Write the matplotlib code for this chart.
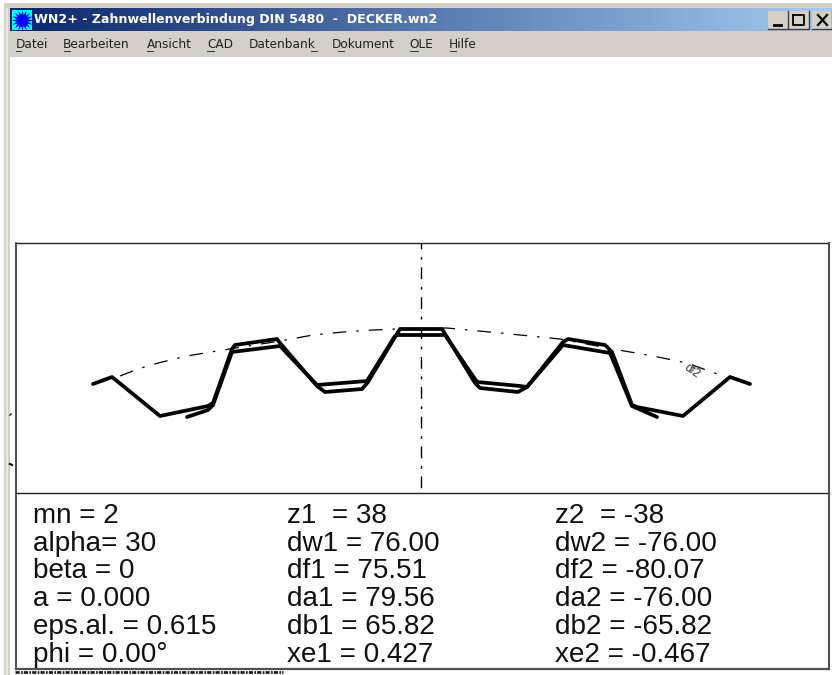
import matplotlib
matplotlib.use("Agg")
import matplotlib.pyplot as plt
import numpy as np

# window text
title = "WN2+ - Zahnwellenverbindung DIN 5480  -  DECKER.wn2"
menu_items = ["Datei", "Bearbeiten", "Ansicht", "CAD", "Datenbank", "Dokument", "OLE", "Hilfe"]
menu_x = [16, 63, 147, 207, 249, 332, 409, 449]
# underlined letter of each menu item (x from, x to)
menu_ul = [(16, 21), (64, 70), (147, 153), (207, 214), (311, 317), (338, 344), (410, 418), (450, 456)]

# parameter table, one list per column
col1 = ["mn = 2", "alpha= 30", "beta = 0", "a = 0.000", "eps.al. = 0.615", "phi = 0.00°"]
col2 = ["z1  = 38", "dw1 = 76.00", "df1 = 75.51", "da1 = 79.56", "db1 = 65.82", "xe1 = 0.427"]
col3 = ["z2  = -38", "dw2 = -76.00", "df2 = -80.07", "da2 = -76.00", "db2 = -65.82", "xe2 = -0.467"]

# tooth profiles
prof1_x = [93, 112, 160, 208, 213, 232, 235, 277, 280, 317, 325, 362, 368, 395, 400, 442, 447, 475, 480, 518, 527, 563, 568, 605, 612, 632, 637, 683, 730, 750]
prof1_y = [384, 377, 416, 406, 403, 349, 345, 339, 343, 386, 392, 389, 382, 337, 329, 329, 337, 383, 388, 392, 387, 342, 339, 345, 352, 405, 407, 416, 377, 384]
prof2_x = [187, 208, 213, 232, 280, 317, 367, 395, 397, 445, 477, 520, 527, 563, 610, 632, 657]
prof2_y = [417, 410, 405, 352, 346, 385, 381, 336, 335, 335, 382, 386, 387, 345, 353, 406, 417]

# df2 circle
arc_x = [120, 138, 158, 187, 217, 280, 313, 343, 373, 397, 447, 500, 560, 613, 653, 687, 720]
arc_y = [376, 369, 363, 356, 351, 341, 335, 332, 330, 329, 328, 333, 339, 349, 356, 363, 375]

fig = plt.figure(figsize=(8.32, 6.75), dpi=100)
ax = fig.add_axes([0, 0, 1, 1])
ax.axis("off")

grey = "#d4d0c8"

# title bar
grad = np.linspace(0, 1, 256).reshape(1, -1, 1)
start = np.array([10, 36, 106]) / 255
end = np.array([166, 202, 240]) / 255
ax.imshow(start + grad * (end - start), extent=[9, 832, 31, 8], aspect="auto", zorder=1)
ax.set_xlim(0, 832)
ax.set_ylim(675, 0)

# window frame
ax.fill_between([4, 832], 3, 8, color=grey, lw=0)
ax.fill_between([4, 10], 3, 675, color=grey, lw=0)
ax.fill_between([6, 8], 8, 675, color="#ece9e4", lw=0)
ax.fill_between([9, 832], 31, 57, color=grey, lw=0)

# app icon
ax.fill_between([12, 32], 10, 30, color="#00ffff", lw=0, zorder=2)
ax.scatter([22], [20], s=260, marker=(16, 1, 0), color="#0000ff", lw=0, zorder=3)

ax.text(34, 20, title, color="white", fontsize=9.1, fontweight="bold", family="DejaVu Sans",
        va="center", zorder=3)
for x, item in zip(menu_x, menu_items):
    ax.text(x, 45, item, color="#202020", fontsize=8.7, family="DejaVu Sans", va="center", zorder=3)
for x0, x1 in menu_ul:
    ax.plot([x0, x1], [51, 51], color="#303030", lw=0.7, zorder=3)

# window buttons
for x0, x1 in [(768, 788), (789, 809), (812, 832)]:
    ax.fill_between([x0, x1], 11, 29, color=grey, lw=0, zorder=3)
    ax.plot([x0, x1, x1], [29, 29, 11], color="#404040", lw=1, zorder=4)
ax.plot([774, 781], [25, 25], color="black", lw=2, zorder=5)
ax.plot([793, 804, 804, 793, 793], [15, 15, 25, 25, 15], color="black", lw=1.3, zorder=5)
ax.plot([818, 827], [15, 25], color="black", lw=1.6, zorder=5)
ax.plot([818, 827], [25, 15], color="black", lw=1.6, zorder=5)

# boxes
ax.plot([16, 829], [243, 243], color="#202020", lw=1)
ax.plot([16, 829], [493, 493], color="#202020", lw=1)
ax.plot([16, 16], [243, 668], color="#303030", lw=1.2)
ax.plot([828.5, 828.5], [243, 669], color="#505050", lw=1.5)
ax.plot([16, 829], [668.5, 668.5], color="#505050", lw=1.6)

# noise strip below the box
ax.plot([15, 283], [672, 672], color="#202020", lw=2, ls=(0, (1.5, 0.5, 0.6, 0.4)))

# centre line and pitch circle
ax.plot([421, 421], [243, 493], color="black", lw=1, ls=(4.3, (8.5, 5.5, 2, 5.5)))
ax.plot(arc_x, arc_y, color="black", lw=0.9, ls=(0, (11, 8, 2, 8)))
ax.text(692, 371, "df2", fontsize=8.5, rotation=-35, ha="center", va="center",
        family="Liberation Sans", color="#303030")

# profiles
ax.plot(prof1_x, prof1_y, color="black", lw=2.7, solid_joinstyle="round", solid_capstyle="round")
ax.plot(prof2_x, prof2_y, color="black", lw=2.7, solid_joinstyle="round", solid_capstyle="round")

# small marks at left edge
ax.plot([10, 11], [415, 414], color="#404040", lw=1.2)
ax.plot([10, 12], [464, 465], color="black", lw=1.5)

# table
for x, col in zip([33, 287, 555], [col1, col2, col3]):
    for i, s in enumerate(col):
        ax.text(x, 516 + i * 27.7, s, fontsize=20.1, family="Liberation Sans", va="center", color="#101010")

fig.savefig("out.png", dpi=100)
